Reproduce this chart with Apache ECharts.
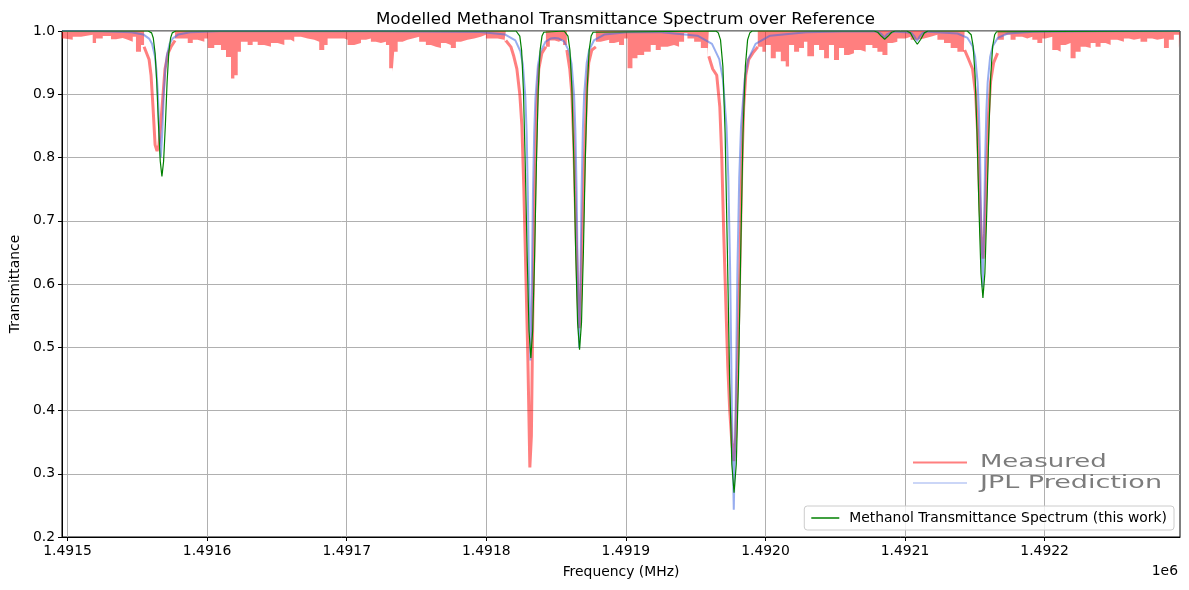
<!DOCTYPE html>
<html>
<head>
<meta charset="utf-8">
<script src="https://cdn.jsdelivr.net/npm/echarts@6/dist/echarts.min.js"></script>
<style>
html,body{margin:0;padding:0;background:#fff;}
#chart{width:1189px;height:590px;}
</style>
</head>
<body>
<div id="chart"></div>
<script>
// ---- data (frequency in MHz, transmittance) ----
const xTicks = [1491500, 1491600, 1491700, 1491800, 1491900, 1492000, 1492100, 1492200];
const yTicks = [0.2, 0.3, 0.4, 0.5, 0.6, 0.7, 0.8, 0.9, 1.0];

// Measured: noisy baseline envelope segments (filled up to 1.0)
const measuredBaseline = [
  [[1491496,.988],[1491497.7,.986],[1491503.7,.991],[1491509.7,.988],[1491510.9,.994],[1491518.0,.981],[1491520.4,.988],[1491525.2,.992],[1491531.1,.987],[1491534.7,.989],[1491539.5,.986],[1491543.1,.983],[1491546.7,.991],[1491549.0,.967],[1491552.6,.978],[1491554.8,.978]],
  [[1491577.0,.988],[1491582.5,.988],[1491586.1,.981],[1491589.7,.986],[1491593.2,.983],[1491598.0,.988],[1491600.4,.973],[1491605.1,.978],[1491609.9,.970],[1491613.5,.959],[1491617.1,.925],[1491619.5,.930],[1491621.9,.967],[1491624.2,.983],[1491629.0,.978],[1491632.6,.983],[1491636.2,.978],[1491640.9,.975],[1491645.7,.981],[1491650.5,.978],[1491655.3,.986],[1491660.0,.983],[1491662.4,.991],[1491667.2,.988],[1491672.0,.986],[1491676.7,.983],[1491680.3,.970],[1491683.9,.978],[1491686.3,.988],[1491698.2,.986],[1491700.6,.978],[1491705.4,.981],[1491710.2,.986],[1491713.8,.988],[1491717.3,.983],[1491720.9,.981],[1491724.5,.983],[1491728.1,.978],[1491730.4,.941],[1491732.9,.935],[1491734.0,.967],[1491736.5,.983],[1491740.0,.986],[1491743.6,.988],[1491747.2,.991],[1491751.9,.983],[1491756.7,.978],[1491760.3,.975],[1491763.9,.973],[1491767.5,.981],[1491771.0,.978],[1491774.6,.973],[1491778.2,.983],[1491781.8,.986],[1491786.6,.988],[1491791.3,.991],[1491796.1,.994],[1491799.7,.988],[1491808.1,.986],[1491812.8,.981],[1491814.0,.981]],
  [[1491842.7,.975],[1491845.5,.985],[1491849.0,.983],[1491852.0,.986],[1491855.0,.978],[1491857.7,.978]],
  [[1491878.5,.983],[1491882.0,.986],[1491888.0,.981],[1491891.6,.983],[1491895.1,.978],[1491898.7,.988],[1491901.2,.941],[1491904.7,.957],[1491908.3,.962],[1491913.1,.967],[1491917.8,.978],[1491921.4,.970],[1491925.0,.975],[1491929.8,.978],[1491934.5,.975],[1491938.1,.983],[1491941.7,.997],[1491944.1,.988],[1491948.9,.983],[1491953.7,.973],[1491958.5,.958],[1491959.4,.958]],
  [[1491994.5,.975],[1491997.8,.967],[1492000.2,.978],[1492003.8,.957],[1492007.4,.967],[1492011.0,.952],[1492014.5,.944],[1492016.9,.978],[1492020.5,.967],[1492024.1,.973],[1492027.6,.983],[1492030.0,.960],[1492034.8,.978],[1492038.4,.970],[1492042.0,.957],[1492045.5,.978],[1492049.1,.954],[1492052.7,.973],[1492056.3,.962],[1492059.8,.965],[1492063.4,.970],[1492068.2,.967],[1492071.8,.978],[1492076.6,.973],[1492080.2,.967],[1492083.8,.962],[1492087.4,.981],[1492091.0,.983],[1492094.5,.988],[1492100.4,.991],[1492104.0,.986],[1492108.8,.988],[1492113.6,.991],[1492118.4,.994],[1492123.2,.986],[1492127.9,.981],[1492132.7,.973],[1492137.5,.967],[1492139.9,.967],[1492142.2,.978],[1492142.7,.978]],
  [[1492166.3,.986],[1492170.8,.994],[1492175.6,.986],[1492179.2,.991],[1492184.0,.988],[1492187.6,.991],[1492191.2,.986],[1492194.8,.981],[1492198.3,.988],[1492200.7,.991],[1492205.5,.970],[1492209.1,.967],[1492211.5,.978],[1492215.0,.981],[1492218.6,.957],[1492222.2,.967],[1492225.8,.975],[1492229.4,.973],[1492233.0,.981],[1492236.5,.975],[1492240.1,.981],[1492243.7,.978],[1492247.3,.986],[1492252.1,.983],[1492256.8,.988],[1492260.4,.986],[1492264.0,.988],[1492268.7,.983],[1492273.5,.988],[1492277.1,.986],[1492280.7,.988],[1492285.5,.973],[1492289.0,.986],[1492292.6,.994],[1492296.2,.973],[1492297.0,.973]]
];

// Measured: absorption dips
const measuredDips = [
  [[1491554.8,.975],[1491558.4,.955],[1491559.8,.93],[1491561.2,.88],[1491562.7,.82],[1491564.1,.81],[1491565.5,.82],[1491567.0,.86],[1491568.4,.90],[1491569.8,.94],[1491572.0,.965],[1491574.1,.975],[1491577.0,.985]],
  [[1491814.0,.985],[1491817.6,.975],[1491819.7,.96],[1491821.9,.94],[1491824.0,.90],[1491825.5,.85],[1491826.9,.75],[1491828.3,.62],[1491829.8,.48],[1491831.2,.31],[1491832.3,.36],[1491833.3,.55],[1491834.8,.75],[1491836.2,.88],[1491837.6,.94],[1491839.8,.965],[1491842.7,.975]],
  [[1491857.7,.97],[1491859.8,.94],[1491861.3,.90],[1491862.7,.82],[1491864.1,.70],[1491865.6,.58],[1491866.6,.53],[1491867.7,.58],[1491869.1,.70],[1491870.6,.82],[1491872.0,.91],[1491873.4,.95],[1491875.6,.97],[1491878.5,.975]],
  [[1491959.4,.96],[1491962.2,.94],[1491965.1,.93],[1491967.3,.88],[1491968.7,.80],[1491970.1,.68],[1491971.6,.57],[1491973.0,.47],[1491974.4,.40],[1491975.9,.35],[1491977.3,.32],[1491978.7,.36],[1491980.1,.48],[1491981.6,.62],[1491983.0,.78],[1491984.4,.88],[1491985.9,.93],[1491988.0,.955],[1491990.9,.965],[1491994.5,.975]],
  [[1492142.7,.97],[1492145.6,.955],[1492148.4,.94],[1492150.6,.90],[1492152.0,.84],[1492153.4,.74],[1492154.9,.66],[1492155.9,.64],[1492157.0,.68],[1492158.5,.78],[1492159.9,.87],[1492161.3,.92],[1492163.5,.95],[1492166.3,.965]]
];

// JPL prediction
const jplPrediction = [
  [1491496,1.0],
  [1491524.8,.9995],[1491545.8,.998],[1491554.2,.9946],[1491558.4,.988],[1491560.5,.980],[1491562.6,.960],[1491563.65,.938],[1491564.7,.900],[1491565.75,.840],[1491566.8,.800],[1491567.85,.840],[1491568.9,.900],[1491569.95,.938],[1491571.0,.960],[1491573.1,.980],[1491575.2,.988],[1491579.4,.9946],[1491587.8,.998],[1491608.8,.9995],
  [1491700,1.0],
  [1491795.6,.9984],[1491813.6,.9943],[1491820.8,.9852],[1491824.4,.968],[1491826.2,.947],[1491828.0,.895],[1491828.9,.839],[1491829.8,.739],[1491830.7,.583],[1491831.6,.479],[1491832.5,.583],[1491833.4,.739],[1491834.3,.838],[1491835.2,.894],[1491837.0,.946],[1491838.8,.967],[1491842.4,.983],[1491846.0,.988],[1491849.0,.989],[1491852.0,.988],[1491855.7,.9836],[1491859.3,.968],[1491861.1,.948],[1491862.9,.898],[1491863.8,.844],[1491864.7,.748],[1491865.6,.599],[1491866.5,.499],[1491867.4,.599],[1491868.3,.749],[1491869.2,.845],[1491870.1,.899],[1491871.9,.949],[1491873.7,.970],[1491877.3,.9857],[1491884.5,.9944],[1491902.5,.9984],
  [1491925.3,.9981],[1491951.3,.9925],[1491961.7,.9796],[1491966.9,.9555],[1491969.5,.924],[1491972.1,.849],[1491973.4,.767],[1491974.7,.6215],[1491976.0,.394],[1491977.3,.243],[1491978.6,.394],[1491979.9,.6215],[1491981.2,.767],[1491982.5,.849],[1491985.1,.924],[1491987.7,.9555],[1491992.9,.9796],[1492003.3,.9925],[1492029.3,.9981],
  [1492055,.9993],[1492077.2,.9994],[1492081.2,.998],[1492083.2,.995],[1492085.2,.990],[1492087.2,.995],[1492089.2,.997],[1492093.2,.999],[1492096.6,.9985],[1492100.6,.998],[1492104.6,.9968],[1492106.6,.992],[1492108.6,.984],[1492110.6,.992],[1492112.6,.9968],[1492116.6,.999],
  [1492119.6,.9985],[1492137.6,.996],[1492144.8,.989],[1492148.4,.976],[1492150.2,.9595],[1492152.0,.919],[1492152.9,.875],[1492153.8,.7975],[1492154.7,.676],[1492155.6,.595],[1492156.5,.676],[1492157.4,.7975],[1492158.3,.875],[1492159.2,.919],[1492161.0,.9595],[1492162.8,.976],[1492166.4,.989],[1492173.6,.996],[1492191.6,.999],[1492240,.9998],
  [1492297,1.0]
];

// Methanol transmittance spectrum (this work)
const thisWork = [
  [1491496,1],
  [1491557.7,1],[1491559.0,.9994],[1491560.2,.997],[1491561.4,.989],[1491562.7,.965],[1491563.9,.919],[1491565.1,.853],[1491566.4,.794],[1491567.6,.770],[1491568.8,.794],[1491570.1,.853],[1491571.3,.919],[1491572.5,.965],[1491573.8,.989],[1491575.0,.997],[1491576.3,.9994],[1491577.5,1],
  [1491821.3,1],[1491822.6,.998],[1491824.0,.992],[1491825.3,.969],[1491826.6,.906],[1491827.9,.790],[1491829.3,.643],[1491830.6,.526],[1491831.9,.483],[1491833.2,.526],[1491834.6,.643],[1491835.9,.790],[1491837.2,.906],[1491838.5,.969],[1491839.9,.992],[1491841.2,.998],[1491842.5,1],
  [1491855.8,1],[1491857.1,.998],[1491858.5,.992],[1491859.9,.970],[1491861.3,.910],[1491862.7,.796],[1491864.0,.654],[1491865.4,.539],[1491866.8,.496],[1491868.2,.539],[1491869.6,.654],[1491870.9,.796],[1491872.3,.910],[1491873.7,.970],[1491875.1,.992],[1491876.5,.998],[1491877.8,1],
  [1491964.6,1],[1491966.2,.997],[1491967.8,.986],[1491969.5,.944],[1491971.1,.838],[1491972.7,.654],[1491974.3,.452],[1491975.9,.315],[1491977.5,.270],[1491979.1,.315],[1491980.7,.452],[1491982.3,.654],[1491983.9,.838],[1491985.6,.944],[1491987.2,.986],[1491988.8,.997],[1491990.4,1],
  [1492077.9,1],[1492080.4,.998],[1492082.9,.992],[1492085.4,.987],[1492087.9,.992],[1492090.4,.998],[1492092.9,1],
  [1492101.3,1],[1492103.8,.997],[1492106.3,.987],[1492108.8,.979],[1492111.3,.987],[1492113.8,.997],[1492116.3,1],
  [1492144.6,1],[1492146.0,.9988],[1492147.4,.994],[1492148.8,.976],[1492150.2,.929],[1492151.6,.837],[1492153.0,.717],[1492154.4,.617],[1492155.8,.578],[1492157.2,.617],[1492158.6,.717],[1492160.0,.837],[1492161.4,.929],[1492162.8,.976],[1492164.2,.994],[1492165.6,.9988],[1492167.0,1],
  [1492297,1]
];

// ---- build ----
// Segments are separated by a gap item placed at the previous segment's end.
function joinSegments(segs) {
  const out = [];
  segs.forEach((s, i) => {
    if (i > 0) out.push([segs[i - 1][segs[i - 1].length - 1][0], null]);
    s.forEach(p => out.push(p));
  });
  return out;
}

const FONT = 'DejaVu Sans';
const chart = echarts.init(document.getElementById('chart'), null, {renderer: 'canvas'});
const RED = 'rgba(255,0,0,0.5)';
const BLUE = 'rgba(65,105,225,0.55)';
const GREEN = '#008000';
const LEGEND_NAME = 'Methanol Transmittance Spectrum (this work)';

chart.setOption({
  animation: false,
  backgroundColor: '#fff',
  title: {
    text: 'Modelled Methanol Transmittance Spectrum over Reference',
    left: 371, top: 6,
    textStyle: {fontFamily: FONT, fontSize: 16.67, fontWeight: 'normal', color: '#000'}
  },
  grid: {left: 61, right: 9, top: 31, bottom: 53, show: true, borderColor: '#000', borderWidth: 1, backgroundColor: 'transparent'},
  legend: {
    data: [{name: LEGEND_NAME, icon: 'rect'}],
    right: 15, bottom: 60,
    orient: 'vertical',
    padding: [5, 7, 5, 7],
    itemWidth: 28, itemHeight: 1.5,
    backgroundColor: 'rgba(255,255,255,0.8)',
    borderColor: '#cccccc', borderWidth: 1, borderRadius: 3,
    textStyle: {fontFamily: FONT, fontSize: 13.9, color: '#000', padding: [0, 0, 0, 5]}
  },
  xAxis: {
    type: 'value',
    min: 1491496, max: 1492297,
    minInterval: 100, maxInterval: 100,
    name: 'Frequency (MHz)', nameLocation: 'middle', nameGap: 28,
    nameTextStyle: {fontFamily: FONT, fontSize: 13.9, color: '#000'},
    axisLine: {show: true, lineStyle: {color: '#000', width: 1}},
    axisTick: {show: true, length: 4, lineStyle: {color: '#000'}, customValues: xTicks},
    axisLabel: {
      fontFamily: FONT, fontSize: 13.9, color: '#000', margin: 7,
      customValues: xTicks,
      formatter: v => (v / 1e6).toFixed(4)
    },
    splitLine: {show: true, lineStyle: {color: '#b0b0b0', width: 1}}
  },
  yAxis: {
    type: 'value',
    min: 0.2, max: 1.0, interval: 0.1,
    name: 'Transmittance', nameLocation: 'middle', nameGap: 38,
    nameTextStyle: {fontFamily: FONT, fontSize: 13.9, color: '#000'},
    axisLine: {show: true, lineStyle: {color: '#000', width: 1}},
    axisTick: {show: true, length: 4, lineStyle: {color: '#000'}},
    axisLabel: {fontFamily: FONT, fontSize: 13.9, color: '#000', margin: 7, formatter: v => v.toFixed(1)},
    splitLine: {show: true, lineStyle: {color: '#b0b0b0', width: 1}}
  },
  series: [
    {
      name: 'Measured', type: 'line', step: 'end', symbol: 'none',
      data: joinSegments(measuredBaseline), connectNulls: false,
      lineStyle: {width: 0, opacity: 0},
      areaStyle: {origin: 'end', color: RED, opacity: 1},
      z: 2, silent: true
    },
    {
      name: 'Measured dips', type: 'line', symbol: 'none',
      data: joinSegments(measuredDips), connectNulls: false,
      lineStyle: {width: 3, color: RED}, itemStyle: {color: RED},
      z: 2, silent: true
    },
    {
      name: 'JPL Prediction', type: 'line', symbol: 'none',
      data: jplPrediction,
      lineStyle: {width: 2, color: BLUE}, itemStyle: {color: BLUE},
      z: 3, silent: true
    },
    {
      name: LEGEND_NAME, type: 'line', symbol: 'none',
      data: thisWork,
      lineStyle: {width: 1.2, color: GREEN}, itemStyle: {color: GREEN},
      z: 4, silent: true
    }
  ],
  graphic: [
    {type: 'line', shape: {x1: 913, y1: 462.5, x2: 967, y2: 462.5}, style: {stroke: RED, lineWidth: 2}, z: 10},
    {type: 'line', shape: {x1: 913, y1: 483, x2: 967, y2: 483}, style: {stroke: BLUE, lineWidth: 1}, z: 10},
    {type: 'text', x: 980, y: 462, scaleX: 1.44, z: 10,
      style: {text: 'Measured', fill: '#7c7c7c', font: '18px "DejaVu Sans"', textVerticalAlign: 'middle', textAlign: 'left'}},
    {type: 'text', x: 980, y: 483, scaleX: 1.5, z: 10,
      style: {text: 'JPL Prediction', fill: '#7c7c7c', font: '18px "DejaVu Sans"', textVerticalAlign: 'middle', textAlign: 'left'}},
    {type: 'text', x: 1178, y: 571, z: 10,
      style: {text: '1e6', fill: '#000', font: '13.9px "DejaVu Sans"', textVerticalAlign: 'middle', textAlign: 'right'}}
  ]
});
</script>
</body>
</html>
